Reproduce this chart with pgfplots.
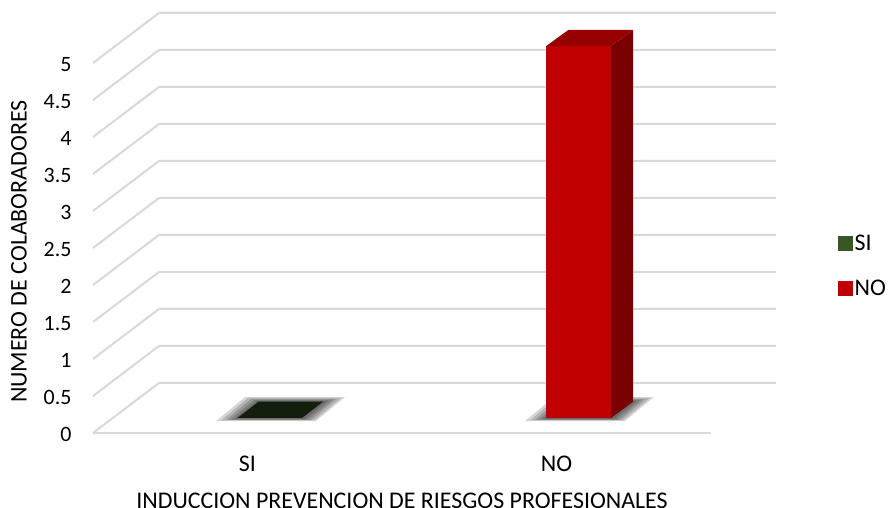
\documentclass[border=0pt]{standalone}
\usepackage{fontspec}
\setmainfont{Carlito}
\usepackage{pgfplots}
\pgfplotsset{compat=1.18}
\definecolor{gridgray}{HTML}{D9D9D9}
\definecolor{sifront}{HTML}{385723}
\definecolor{sitop}{HTML}{141E0C}
\definecolor{nofront}{HTML}{C00000}
\definecolor{notop}{HTML}{960000}
\definecolor{noside}{HTML}{7B0000}
\begin{document}
\begin{tikzpicture}
\begin{axis}[
    name=ax,
    x=309bp, y=74bp,
    xmin=-0.5, xmax=1.7104,
    ymin=0, ymax=5.7,
    clip=false,
    axis line style={draw=none},
    tick style={draw=none},
    xtick={0,1},
    xticklabels={SI,NO},
    ytick={0,0.5,1,1.5,2,2.5,3,3.5,4,4.5,5},
    yticklabels={0,0.5,1,1.5,2,2.5,3,3.5,4,4.5,5},
    xticklabel style={yshift=-19bp,font=\fontsize{24}{28}\selectfont},
    yticklabel style={xshift=-18bp,yshift=-1.5bp,font=\fontsize{22}{26}\selectfont},
    xlabel={INDUCCION PREVENCION DE RIESGOS PROFESIONALES},
    ylabel={NUMERO DE COLABORADORES},
    label style={font=\fontsize{24}{28}\selectfont},
    xlabel style={at={(axis cs:0.5,-0.92)},anchor=center},
    ylabel style={at={(axis cs:-0.7395,2.45)},anchor=center},
    legend style={draw=none,fill=none,at={(axis cs:1.911,2.71)},anchor=north west,
        inner sep=0pt,row sep=24bp,font=\fontsize{24}{28}\selectfont,
        /tikz/every even column/.append style={column sep=7bp}},
    legend cell align=left,
    legend image code/.code={\fill[#1] (0bp,-7bp) rectangle (14bp,7bp);},
    grid line/.style={draw=gridgray,line width=2bp,forget plot,mark=none},
    face/.style={draw=none,forget plot,mark=none},
    shade/.style={draw=none,fill=black,fill opacity=0.16,forget plot,mark=none},
]
% floor and walls: front edge, depth edge, back edge
\addplot[grid line] coordinates {(-0.5,0)(1.5,0)};
\addplot[grid line] coordinates {(-0.5,0)(-0.2864,0.676)(1.7104,0.676)};
\addplot[grid line] coordinates {(-0.5,0.5)(-0.2864,1.176)(1.7104,1.176)};
\addplot[grid line] coordinates {(-0.5,1)(-0.2864,1.676)(1.7104,1.676)};
\addplot[grid line] coordinates {(-0.5,1.5)(-0.2864,2.176)(1.7104,2.176)};
\addplot[grid line] coordinates {(-0.5,2)(-0.2864,2.676)(1.7104,2.676)};
\addplot[grid line] coordinates {(-0.5,2.5)(-0.2864,3.176)(1.7104,3.176)};
\addplot[grid line] coordinates {(-0.5,3)(-0.2864,3.676)(1.7104,3.676)};
\addplot[grid line] coordinates {(-0.5,3.5)(-0.2864,4.176)(1.7104,4.176)};
\addplot[grid line] coordinates {(-0.5,4)(-0.2864,4.676)(1.7104,4.676)};
\addplot[grid line] coordinates {(-0.5,4.5)(-0.2864,5.176)(1.7104,5.176)};
\addplot[grid line] coordinates {(-0.5,5)(-0.2864,5.676)(1.7104,5.676)};
% soft floor shadows, widest first
\addplot[shade] coordinates {(-0.1019,0.162)(0.2217,0.162)(0.3155,0.486)(-0.0081,0.486)} -- cycle;
\addplot[shade] coordinates {(-0.0858,0.169)(0.2152,0.169)(0.3026,0.473)(0.0016,0.473)} -- cycle;
\addplot[shade] coordinates {(-0.0696,0.176)(0.2055,0.176)(0.2864,0.459)(0.0113,0.459)} -- cycle;
\addplot[shade] coordinates {(-0.0566,0.182)(0.1958,0.182)(0.2735,0.446)(0.021,0.446)} -- cycle;
\addplot[shade] coordinates {(-0.0437,0.189)(0.1861,0.189)(0.2605,0.439)(0.0307,0.439)} -- cycle;
\addplot[shade] coordinates {(0.8981,0.162)(1.2217,0.162)(1.3155,0.486)(0.9919,0.486)} -- cycle;
\addplot[shade] coordinates {(0.9142,0.169)(1.2152,0.169)(1.3026,0.473)(1.0016,0.473)} -- cycle;
\addplot[shade] coordinates {(0.9304,0.176)(1.2055,0.176)(1.2864,0.459)(1.0113,0.459)} -- cycle;
\addplot[shade] coordinates {(0.9434,0.182)(1.1958,0.182)(1.2735,0.446)(1.021,0.446)} -- cycle;
\addplot[shade] coordinates {(0.9563,0.189)(1.1861,0.189)(1.2605,0.439)(1.0307,0.439)} -- cycle;
% SI, value 0: only the lid shows
\addplot[face,fill=sitop] coordinates {(-0.0324,0.2027)(0.1764,0.2027)(0.2444,0.4227)(0.0357,0.4227)} -- cycle;
% NO, value 5
\addplot[face,fill=noside] coordinates {(1.1764,0.2027)(1.2476,0.4227)(1.2476,5.446)(1.1764,5.23)} -- cycle;
\addplot[face,fill=notop] coordinates {(0.967,5.23)(1.1764,5.23)(1.2476,5.446)(1.0382,5.446)} -- cycle;
\addplot[face,fill=nofront] coordinates {(0.967,0.2027)(1.1764,0.2027)(1.1764,5.23)(0.967,5.23)} -- cycle;
\addlegendimage{sifront}
\addlegendentry{SI}
\addlegendimage{nofront}
\addlegendentry{NO}
\end{axis}
\pgfresetboundingbox
\path ([shift={(-93bp,-75bp)}]ax.south west) rectangle ([shift={(112bp,11.2bp)}]ax.north east);
\end{tikzpicture}
\end{document}
